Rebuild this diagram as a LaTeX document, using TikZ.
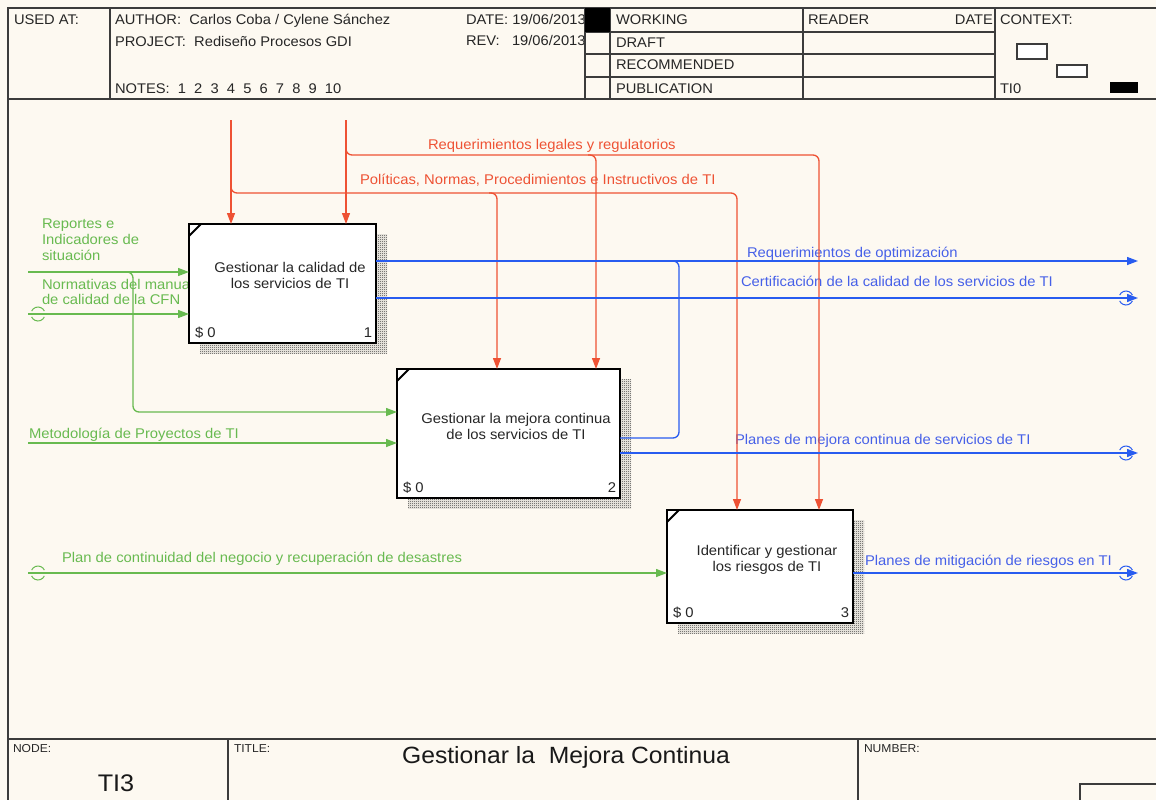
\documentclass[tikz,border=0pt]{standalone}
\usepackage{fontspec}
\setmainfont[FakeStretch=1.05]{Liberation Sans}
\usetikzlibrary{arrows.meta,patterns,shadows}
\definecolor{paper}{RGB}{253,249,241}
\definecolor{ctlred}{RGB}{238,82,52}
\definecolor{ingreen}{RGB}{104,186,80}
\definecolor{outblue}{RGB}{40,92,240}
\definecolor{outtext}{RGB}{70,96,232}
\definecolor{frame}{RGB}{60,60,60}
% fine checkerboard used for the box shadows
\pgfdeclarepatternformonly{finecheck}{\pgfpointorigin}{\pgfpoint{2pt}{2pt}}{\pgfpoint{2pt}{2pt}}{%
  \pgfpathrectangle{\pgfpointorigin}{\pgfpoint{1pt}{1pt}}%
  \pgfpathrectangle{\pgfpoint{1pt}{1pt}}{\pgfpoint{1pt}{1pt}}%
  \pgfusepath{fill}}
\begin{document}
\begin{tikzpicture}[x=1pt,y=-1pt,
  every node/.style={inner sep=0pt,outer sep=0pt},
  txt/.style={font=\fontsize{14.1}{16}\selectfont},
  lbl/.style={txt,anchor=base west},
  hdr/.style={font=\fontsize{14}{16}\selectfont,anchor=base west,text=black!85},
  small/.style={font=\fontsize{11.5}{13}\selectfont,anchor=base west,text=black!85},
  rule/.style={draw=frame,line width=1.3pt},
  proc/.style={draw=black,line width=2.6pt,fill=white,anchor=north west,
    drop shadow={shadow xshift=11pt,shadow yshift=-10pt,opacity=1,
      pattern=finecheck,pattern color=black!80}},
  boxtext/.style={txt,align=center,anchor=base,text=black!85},
  tip/.style={-{Triangle[length=11pt,width=8pt]}},
  ctl/.style={draw=ctlred,line width=1.3pt},
  inp/.style={draw=ingreen,line width=1.3pt},
  outp/.style={draw=outblue,line width=1.3pt},
  tunnel/.style={line width=1pt},
]
% sheet
\fill[paper] (0,0) rectangle (1156,800);
\useasboundingbox (0,0) rectangle (1156,800);

% ---------- header form ----------
\draw[rule] (8,800) -- (8,8) -- (1160,8);
\draw[rule] (8,99) -- (1160,99);
\draw[rule] (110,8) -- (110,99);
\node[hdr] (usedat) at (14,25) {USED AT:};
\node[hdr] (author) at (115,25) {AUTHOR:\ \ Carlos Coba / Cylene Sánchez};
\node[hdr] (project) at (115,47) {PROJECT:\ \ Rediseño Procesos GDI};
\node[hdr] (notes) at (115,93) {NOTES:\ \ 1\ \ 2\ \ 3\ \ 4\ \ 5\ \ 6\ \ 7\ \ 8\ \ 9\ \ 10};
\node[hdr] (date) at (466,25) {DATE: 19/06/2013};
\node[hdr] (rev) at (466,46) {REV:\ \ \ 19/06/2013};
\fill[paper] (586,9) rectangle (610,98);
\draw[rule] (585,8) -- (585,99);
\draw[rule] (610,8) -- (610,99);
\draw[rule] (803,8) -- (803,99);
\draw[rule] (995,8) -- (995,99);
\draw[rule] (585,32) -- (995,32);
\draw[rule] (585,54) -- (995,54);
\draw[rule] (585,77) -- (995,77);
\fill[black] (585,8) rectangle (610,32);
\node[hdr] (working) at (616,25) {WORKING};
\node[hdr] (draft) at (616,48) {DRAFT};
\node[hdr] (recomm) at (616,70) {RECOMMENDED};
\node[hdr] (public) at (616,93) {PUBLICATION};
\node[hdr] (reader) at (808,25) {READER};
\node[hdr,anchor=base east] (rdate) at (993,25) {DATE};
\node[hdr] (context) at (1000,25) {CONTEXT:};
\node[hdr] (ti0) at (1000,93) {TI0};
\draw[draw=frame,line width=1.1pt,fill=white] (1017,44) rectangle (1047,59);
\draw[draw=frame,line width=1.1pt,fill=white] (1057,65) rectangle (1087,77);
\fill[black] (1110,82) rectangle (1138,93);

% ---------- footer form ----------
\draw[rule] (8,739) -- (1160,739);
\draw[rule] (228,739) -- (228,805);
\draw[rule] (858,739) -- (858,805);
\draw[rule] (1080,805) -- (1080,784) -- (1160,784);
\node[small] (nodelbl) at (13,752) {NODE:};
\node[small] (titlelbl) at (234,752) {TITLE:};
\node[small] (numlbl) at (864,752) {NUMBER:};
\node[font=\fontsize{24}{28}\selectfont,anchor=base,text=black!90] (nodeno) at (116,791) {TI3};
\node[font=\fontsize{23.5}{26}\selectfont,anchor=base,text=black!90] (title) at (566,763) {Gestionar la\ \ Mejora Continua};

% ---------- arrow labels drawn first so the boxes sit on top ----------
\node[lbl,text=ctlred] (lreq) at (428,149) {Requerimientos legales y regulatorios};
\node[lbl,text=ctlred] (lpol) at (360,184) {Políticas, Normas, Procedimientos e Instructivos de TI};
\node[lbl,text=ingreen] (lrep1) at (42,228) {Reportes e};
\node[lbl,text=ingreen] (lrep2) at (42,244) {Indicadores de};
\node[lbl,text=ingreen] (lrep3) at (42,260) {situación};
\node[lbl,text=ingreen] (lnor1) at (42,289) {Normativas del manual};
\node[lbl,text=ingreen] (lnor2) at (42,304) {de calidad de la CFN};
\node[lbl,text=ingreen] (lmet) at (29,438) {Metodología de Proyectos de TI};
\node[lbl,text=ingreen] (lplan) at (62,562) {Plan de continuidad del negocio y recuperación de desastres};
\node[lbl,text=outtext] (lopt) at (747,257) {Requerimientos de optimización};
\node[lbl,text=outtext] (lcert) at (741,286) {Certificación de la calidad de los servicios de TI};
\node[lbl,text=outtext] (lmej) at (735,444) {Planes de mejora continua de servicios de TI};
\node[lbl,text=outtext] (lmit) at (865,565) {Planes de mitigación de riesgos en TI};

% ---------- activity boxes ----------
\node[proc,minimum width=187pt,minimum height=119pt] (b1) at (189,224) {};
\node[proc,minimum width=223pt,minimum height=129pt] (b2) at (397,369) {};
\node[proc,minimum width=186pt,minimum height=113pt] (b3) at (667,510) {};
\foreach \b in {b1,b2,b3}{
  \draw[line width=1.8pt] ([yshift=-12pt]\b.north west) -- ([xshift=12pt]\b.north west);
}
% the base anchor of a two-line node sits on its last line
\node[boxtext] (b1t) at (290,288) {Gestionar la calidad de\\los servicios de TI};
\node[boxtext] (b2t) at (516,439) {Gestionar la mejora continua\\de los servicios de TI};
\node[boxtext] (b3t) at (767,571) {Identificar y gestionar\\los riesgos de TI};
\node[lbl,text=black!85] (b1c) at ([shift={(6pt,6pt)}]b1.south west) {\$ 0};
\node[lbl,text=black!85] (b2c) at ([shift={(6pt,6pt)}]b2.south west) {\$ 0};
\node[lbl,text=black!85] (b3c) at ([shift={(6pt,6pt)}]b3.south west) {\$ 0};
\node[txt,anchor=base east,text=black!85] (b1n) at ([shift={(-4pt,6pt)}]b1.south east) {1};
\node[txt,anchor=base east,text=black!85] (b2n) at ([shift={(-4pt,6pt)}]b2.south east) {2};
\node[txt,anchor=base east,text=black!85] (b3n) at ([shift={(-4pt,6pt)}]b3.south east) {3};

% ---------- controls (red) ----------
\coordinate (pA) at (231,120);
\coordinate (jA) at (231,193);
\coordinate (xA2) at (497,193);
\coordinate (xA3) at (737,193);
\coordinate (pB) at (346,120);
\coordinate (jB) at (346,155);
\coordinate (xB2) at (596,155);
\coordinate (xB3) at (819,155);
\draw[ctl,tip] (pA) -- (pA |- b1.north);
\draw[ctl,tip,rounded corners=6pt] ([yshift=8pt]jA) -- (jA) -- (xA3) -- (xA3 |- b3.north);
\draw[ctl,tip,rounded corners=6pt] ([xshift=-8pt]xA2) -- (xA2) -- (xA2 |- b2.north);
\draw[ctl,tip] (pB) -- (pB |- b1.north);
\draw[ctl,tip,rounded corners=6pt] ([yshift=8pt]jB) -- (jB) -- (xB3) -- (xB3 |- b3.north);
\draw[ctl,tip,rounded corners=6pt] ([xshift=-8pt]xB2) -- (xB2) -- (xB2 |- b2.north);

% ---------- inputs (green) ----------
\coordinate (i1) at (28,272);
\coordinate (i2) at (28,314);
\coordinate (i3) at (28,443);
\coordinate (i4) at (28,573);
\coordinate (g1) at (133,272);
\coordinate (g2) at (133,412);
\draw[inp,tip] (i1) -- (i1 -| b1.west);
\draw[inp,tip] (i2) -- (i2 -| b1.west);
\draw[inp,tip,rounded corners=6pt] ([xshift=-8pt]g1) -- (g1) -- (g2) -- (g2 -| b2.west);
\draw[inp,tip] (i3) -- (i3 -| b2.west);
\draw[inp,tip] (i4) -- (i4 -| b3.west);
\foreach \t in {i2,i4}{
  \draw[inp,tunnel] ([xshift=10pt]\t) ++(25:7) arc[start angle=25,end angle=155,radius=7];
  \draw[inp,tunnel] ([xshift=10pt]\t) ++(205:7) arc[start angle=205,end angle=335,radius=7];
}

% ---------- outputs (blue) ----------
\coordinate (o1) at (1138,261);
\coordinate (o2) at (1138,298);
\coordinate (o3) at (1138,453);
\coordinate (o4) at (1138,573);
\coordinate (f1) at (679,261);
\coordinate (f2) at (679,438);
\draw[outp,tip] (o1 -| b1.east) -- (o1);
\draw[outp,tip] (o2 -| b1.east) -- (o2);
\draw[outp,tip] (o3 -| b2.east) -- (o3);
\draw[outp,tip] (o4 -| b3.east) -- (o4);
\draw[outp,rounded corners=6pt] ([xshift=-8pt]f1) -- (f1) -- (f2) -- (f2 -| b2.east);
\foreach \t in {o2,o3,o4}{
  \draw[outp,tunnel] ([xshift=-12pt]\t) ++(25:7) arc[start angle=25,end angle=155,radius=7];
  \draw[outp,tunnel] ([xshift=-12pt]\t) ++(205:7) arc[start angle=205,end angle=335,radius=7];
}
\end{tikzpicture}
\end{document}
